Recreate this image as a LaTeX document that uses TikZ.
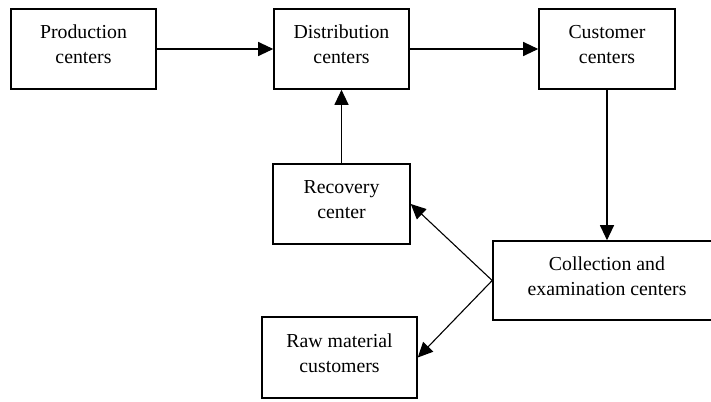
\documentclass[tikz,border=0pt]{standalone}
\usepackage{fontspec}
\setmainfont{Liberation Serif}
\usetikzlibrary{arrows.meta}

\begin{document}
\begin{tikzpicture}[x=1pt,y=-1pt,
        centerbox/.style={draw,line width=1.6pt,align=center,inner sep=0pt,text depth=9pt,
            font=\fontsize{19.8}{25}\selectfont},
        flow/.style={line width=1.1pt,-{Triangle[length=15pt,width=14pt]}}]
        \useasboundingbox (0,0) rectangle (711,401);
        %Top row
        \node[centerbox,minimum width=145pt,minimum height=80pt] (prod) at (83.5,49) {Production\\centers};
        \node[centerbox,minimum width=135pt,minimum height=80pt] (dist) at (341.5,49) {Distribution\\centers};
        \node[centerbox,minimum width=136pt,minimum height=80pt] (cust) at (607,49) {Customer\\centers};
        %Reverse side
        \node[centerbox,minimum width=137pt,minimum height=80pt] (recov) at (341.5,204) {Recovery\\center};
        \node[centerbox,minimum width=228pt,minimum height=79pt] (coll) at (607,280.5) {Collection and\\examination centers};
        \node[centerbox,minimum width=155pt,minimum height=81pt] (raw) at (339.5,357.5) {Raw material\\customers};
        %Flows
        \draw[flow] (prod.east) -- (dist.west);
        \draw[flow] (dist.east) -- (cust.west);
        \draw[flow] (cust.south) -- (coll.north);
        \draw[flow] (recov.north) -- (dist.south);
        \draw[flow] (coll.west) -- (recov.east);
        \draw[flow] (coll.west) -- (raw.east);
    \end{tikzpicture}
\end{document}
